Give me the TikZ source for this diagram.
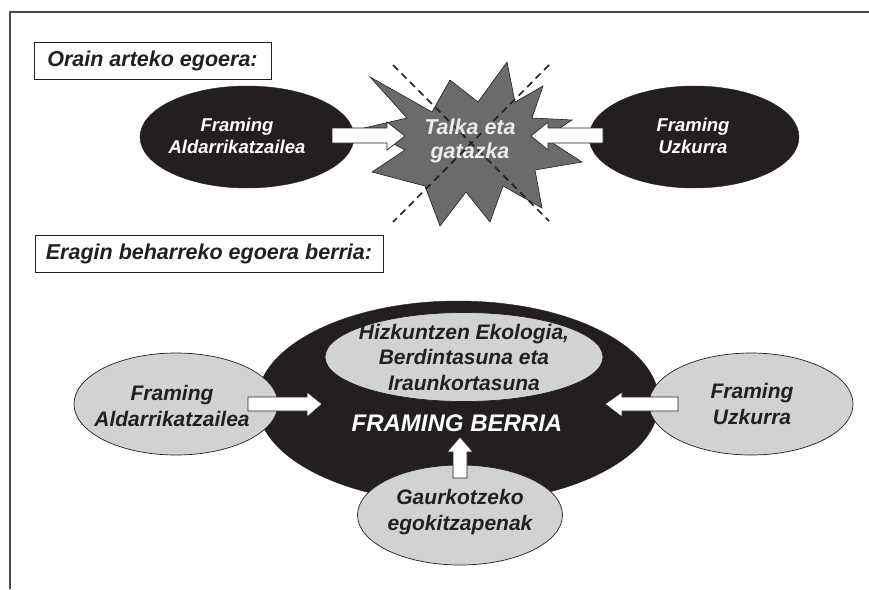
\documentclass[tikz,border=0pt]{standalone}
\usepackage{fontspec}
\setmainfont{Liberation Sans}
\usetikzlibrary{shapes.geometric}
\definecolor{nearblack}{HTML}{231F20}
\definecolor{lightg}{HTML}{D1D2D4}
\definecolor{stargray}{HTML}{6A6B6D}
\definecolor{textdark}{HTML}{231F20}
\definecolor{framegray}{HTML}{4A4A4A}
\begin{document}
\begin{tikzpicture}[x=1pt,y=-1pt,
  blackell/.style={ellipse, draw=nearblack, fill=nearblack, inner sep=0pt},
  grayell/.style={ellipse, draw=nearblack, line width=0.7pt, fill=lightg, inner sep=0pt},
  whitelbl/.style={text=white, align=center, inner sep=0pt, font=\bfseries\itshape\fontsize{18.5}{22}\selectfont},
  darklbl/.style={text=textdark, align=center, inner sep=0pt, font=\bfseries\itshape\fontsize{21}{25.5}\selectfont},
  titlebox/.style={draw=nearblack, line width=0.8pt, fill=white, inner sep=0pt, text=textdark, font=\bfseries\itshape\fontsize{21.5}{25}\selectfont},
  blockarrow/.style={draw=nearblack, line width=0.7pt, fill=white},
  crossline/.style={draw=nearblack, line width=1.6pt, dash pattern=on 7pt off 5pt},
]
\useasboundingbox (0,0) rectangle (869,589);
% outer frame
\coordinate (fbl) at (10,589);
\coordinate (ftl) at (10,12);
\coordinate (ftr) at (869,12);
\draw[framegray, line width=1.4pt] (fbl) -- (ftl) -- (ftr);

% ---------- top section ----------
\node[titlebox, minimum width=237, minimum height=37] (box1) at (152.5,60.5) {Orain arteko egoera:};

\node[blackell, minimum width=214, minimum height=102] (eL) at (247,137) {};
\node[blackell, minimum width=210, minimum height=102] (eR) at (694,137) {};

% starburst
\path[fill=stargray, draw=nearblack, line width=0.6pt]
  (370,77) -- (432,112) -- (450,80) -- (478,102) -- (507,62) -- (515,102)
  -- (543,86) -- (532,118) -- (572,120) -- (545,138) -- (582,162) -- (535,170)
  -- (542,208) -- (503,186) -- (490,222) -- (466,192) -- (440,226) -- (425,186)
  -- (372,172) -- (405,150) -- (364,128) -- (407,118) -- cycle;
\coordinate (star) at (470,141);

% dashed cross
\coordinate (d1a) at (393,65);
\coordinate (d1b) at (549,221);
\coordinate (d2a) at (549,65);
\coordinate (d2b) at (393,222);
\draw[crossline] (d1a) -- (d1b);
\draw[crossline] (d2a) -- (d2b);

% block arrows (top)
\path[blockarrow] (332,128) -- (387,128) -- (387,122) -- (405,136) -- (387,150) -- (387,143) -- (332,143) -- cycle;
\path[blockarrow] (603,128) -- (548,128) -- (548,122) -- (531,136) -- (548,150) -- (548,143) -- (603,143) -- cycle;

\node[whitelbl] (eLt) at (237,136) {Framing\\Aldarrikatzailea};
\node[whitelbl] (eRt) at (693,136) {Framing\\Uzkurra};
\node[whitelbl, text=white!93!black, font=\bfseries\itshape\fontsize{21.5}{24}\selectfont] (startxt) at (star) {Talka eta\\gatazka};

% ---------- bottom section ----------
\node[titlebox, minimum width=348, minimum height=37] (box2) at (209,253.5) {Eragin beharreko egoera berria:};

\node[blackell, minimum width=402, minimum height=202] (big) at (458,402) {};
\node[grayell, minimum width=278, minimum height=89] (top) at (464,357) {};
\node[grayell, minimum width=204, minimum height=102] (left) at (176,404) {};
\node[grayell, minimum width=204, minimum height=102] (right) at (751,404) {};
\node[grayell, minimum width=205, minimum height=100] (bot) at (460,515) {};

\node[darklbl] (topt) at (top.center) {Hizkuntzen Ekologia,\\Berdintasuna eta\\Iraunkortasuna};
\node[darklbl] (leftt) at (172,406) {Framing\\Aldarrikatzailea};
\node[darklbl] (rightt) at (752,404) {Framing\\Uzkurra};
\node[darklbl] (bott) at (460,512) {Gaurkotzeko\\egokitzapenak};
\node[text=white, inner sep=0pt, font=\bfseries\itshape\fontsize{24}{28}\selectfont] (berria) at (457,423) {FRAMING BERRIA};

% block arrows (bottom)
\path[blockarrow] (248,397) -- (307,397) -- (307,392) -- (322,404) -- (307,417) -- (307,411) -- (248,411) -- cycle;
\path[blockarrow] (678,397) -- (622,397) -- (622,392) -- (605,404) -- (622,417) -- (622,411) -- (678,411) -- cycle;
\path[blockarrow] (453,478) -- (453,452) -- (447,452) -- (460,437) -- (473,452) -- (467,452) -- (467,478) -- cycle;
\end{tikzpicture}
\end{document}
